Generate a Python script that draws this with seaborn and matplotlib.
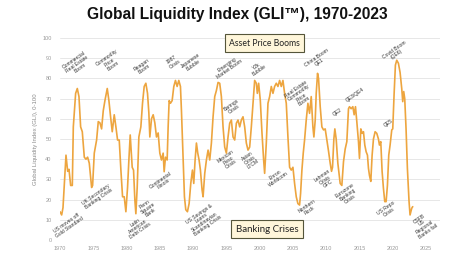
import matplotlib
matplotlib.use("Agg")
import matplotlib.pyplot as plt
import seaborn as sns
import pandas as pd

# ---------------- data ----------------
years = [1970.0, 1970.25, 1970.45, 1970.9, 1971.15, 1971.35, 1971.6, 1971.85,
         1972.0, 1972.35, 1972.6, 1972.85, 1973.1, 1973.35, 1973.65, 1973.9,
         1974.15, 1974.4, 1974.75, 1974.9, 1975.15, 1975.5, 1975.75, 1976.0,
         1976.25, 1976.5, 1976.75, 1977.1, 1977.35, 1977.6, 1977.85, 1978.15,
         1978.4, 1978.65, 1978.9, 1979.15, 1979.4, 1979.65, 1979.9, 1980.15,
         1980.35, 1980.55, 1980.85, 1981.05, 1981.25, 1981.4, 1981.6, 1981.85,
         1982.15, 1982.4, 1982.65, 1982.9, 1983.15, 1983.35, 1983.5, 1983.75,
         1984.0, 1984.25, 1984.5, 1984.75, 1985.0, 1985.25, 1985.5, 1985.65,
         1985.85, 1986.1, 1986.25, 1986.4, 1986.6, 1986.85, 1987.1, 1987.35,
         1987.6, 1987.85, 1988.1, 1988.25, 1988.5, 1988.7, 1988.9, 1989.15,
         1989.4, 1989.65, 1989.9, 1990.1, 1990.3, 1990.5, 1990.7, 1990.9,
         1991.1, 1991.35, 1991.5, 1991.75, 1992.0, 1992.25, 1992.5, 1992.75,
         1993.0, 1993.25, 1993.5, 1993.75, 1994.0, 1994.25, 1994.5, 1994.75,
         1995.0, 1995.25, 1995.5, 1995.75, 1996.0, 1996.25, 1996.5, 1996.75,
         1997.0, 1997.25, 1997.5, 1997.75, 1998.0, 1998.25, 1998.5, 1998.75,
         1999.0, 1999.25, 1999.5, 1999.65, 1999.85, 2000.1, 2000.35, 2000.6,
         2000.75, 2001.0, 2001.25, 2001.5, 2001.75, 2002.0, 2002.25, 2002.5,
         2002.75, 2003.0, 2003.25, 2003.5, 2003.75, 2004.0, 2004.25, 2004.5,
         2004.75, 2005.0, 2005.25, 2005.5, 2005.75, 2006.0, 2006.15, 2006.35,
         2006.55, 2006.75, 2007.0, 2007.25, 2007.5, 2007.75, 2008.0, 2008.15,
         2008.35, 2008.5, 2008.7, 2008.85, 2009.1, 2009.35, 2009.6, 2009.85,
         2010.1, 2010.35, 2010.6, 2010.8, 2010.95, 2011.15, 2011.3, 2011.5,
         2011.75, 2012.1, 2012.35, 2012.6, 2012.85, 2013.1, 2013.35, 2013.5,
         2013.75, 2014.0, 2014.2, 2014.4, 2014.6, 2014.85, 2015.0, 2015.2,
         2015.4, 2015.6, 2015.8, 2016.0, 2016.2, 2016.35, 2016.5, 2016.7,
         2016.9, 2017.1, 2017.35, 2017.6, 2017.85, 2018.0, 2018.2, 2018.4,
         2018.6, 2018.8, 2019.0, 2019.2, 2019.4, 2019.6, 2019.85, 2020.0,
         2020.2, 2020.4, 2020.6, 2020.85, 2021.1, 2021.35, 2021.5, 2021.65,
         2021.8, 2022.0, 2022.2, 2022.45, 2022.6, 2022.85, 2023.0]
gli = [14, 12.4, 16, 42, 34, 35, 27, 27,
       56, 72.6, 75, 71, 56, 53.6, 41, 40,
       41, 38, 26, 27, 43, 49.5, 58.6, 58,
       55, 64, 69, 75, 69, 61, 53.6, 62,
       56, 49.5, 49.5, 34.6, 21.4, 21.4, 14, 26,
       39.6, 52, 36, 34.6, 19.8, 13, 26, 51,
       56, 67.7, 76, 77.6, 72.6, 63, 51, 60,
       62, 58, 51, 53, 43, 39.6, 43, 33.8,
       41, 39.6, 56, 69, 67.7, 69, 76, 79,
       76, 79, 76, 64, 39.6, 21.4, 15, 14,
       18, 28, 34.6, 28, 39.6, 48, 43, 39.6,
       34.6, 24.7, 21.4, 33, 39.6, 44.5, 39.6, 48,
       61, 71, 74, 78, 77.6, 71, 56, 46,
       43, 51, 57.8, 59.4, 51, 49.5, 57.8, 59.4,
       56, 59.4, 61, 56, 48, 44.5, 46, 56,
       67.7, 79, 77.6, 72.6, 77.6, 69, 53, 39.6,
       33, 48, 67.7, 71, 76, 72.6, 76, 77.6,
       76, 79, 76, 79, 72.6, 67.7, 51, 36,
       34.6, 36, 28, 21.4, 18, 17.3, 23, 34.6,
       43, 49.5, 59.4, 67.7, 62.7, 71, 56, 51,
       59.4, 72.6, 82.5, 80, 66, 56, 54.5, 55,
       49.5, 44, 38, 34, 36, 50, 55, 50,
       38, 28, 27, 38.8, 45, 48.7, 65, 66,
       65, 66, 62, 66, 58.6, 48.7, 40.4, 55,
       52.8, 53.6, 47, 43.7, 42, 35.5, 32, 29,
       42, 50, 53.6, 52.8, 50, 47, 48.7, 34,
       25.6, 19, 19, 27, 42, 47, 54.5, 55,
       72, 86.6, 89, 87.5, 83, 75, 68.5, 73.5,
       70, 55, 35.5, 19, 12.4, 15.7, 16.5]

boom_labels = ["Commercial\nReal Estate\nBoom", "Commodity\nPrice\nBoom", "Reagan\nBoom",
               "1987\nCrisis", "Japanese\nBubble", "Emerging\nMarket Boom", "Y2k\nBubble",
               "China Boom\nQE1", "Real Estate\nCommodity\nPrice\nBoom", "QE2", "QE3/QE4",
               "Covid Boom\n(QE6)", "QE5", "Barings\nCrisis"]
boom_x = [1972.6, 1977.5, 1982.5, 1987.0, 1989.85, 1995.3, 1999.8,
          2008.8, 2006.1, 2011.65, 2014.4, 2020.4, 2019.3, 1996.0]
boom_y = [87.1, 88.1, 85.6, 88.1, 87.6, 85.6, 85.1,
          89.1, 71.8, 63.4, 71.8, 93.1, 57.9, 65.8]

crisis_labels = ["US moves off\nGold Standard", "UK Secondary\nBanking Crisis",
                 "Latin\nAmerican\nDebt Crisis", "Penn\nSquare\nBank", "Continental\nIllinois",
                 "US Savings &\nLoans\nScandinavian\nBanking Crisis", "Mexican\nPeso\nCrisis",
                 "Asian\nCrisis\nLTCM", "Enron\nWorldcom", "Northern\nRock",
                 "Lehman\nCrisis\nGFC", "Eurozone\nBanking\nCrisis", "US Repo\nCrisis",
                 "CSFB\nUS\nRegional\nBanks fail"]
crisis_x = [1971.2, 1975.6, 1981.7, 1983.2, 1985.3, 1991.5, 1995.3,
            1998.6, 2002.6, 2007.3, 2009.85, 2013.2, 2019.2, 2024.6]
crisis_y = [7.4, 21.3, 6.4, 15.8, 28.7, 9.9, 39.6,
            39.6, 31.2, 15.8, 29.7, 22.3, 14.9, 7.4]

x_ticks = [1970, 1975, 1980, 1985, 1990, 1995, 2000, 2005, 2010, 2015, 2020, 2025]
y_ticks = [0, 10, 20, 30, 40, 50, 60, 70, 80, 90, 100]

title = "Global Liquidity Index (GLI\u2122), 1970-2023"
y_label = "Global Liquidity Index (GLI), 0-100"

# ---------------- figure ----------------
sns.set_theme(style="white")
plt.rcParams["font.family"] = ["Liberation Sans", "DejaVu Sans"]

W, H = 474, 272
fig = plt.figure(figsize=(W / 100, H / 100), dpi=100)
ax = fig.add_axes([60 / W, 32 / H, 380 / W, 202 / H])

df = pd.DataFrame({"year": years, "gli": gli})
sns.lineplot(data=df, x="year", y="gli", ax=ax, color="#EDA53F", linewidth=1.2,
             estimator=None, sort=False)

ax.set_xlim(1970, 2027.1)
ax.set_ylim(0, 100)
ax.set_xticks(x_ticks)
ax.set_yticks(y_ticks)
ax.tick_params(axis="both", length=0, labelsize=4, labelcolor="#9a9a9a")
ax.tick_params(axis="y", pad=6)
ax.tick_params(axis="x", pad=4)
ax.yaxis.grid(True, color="#e3e3e3", linewidth=0.6)
ax.xaxis.grid(False)
for s in ax.spines.values():
    s.set_visible(False)
ax.set_xlabel("")
ax.set_ylabel(y_label, fontsize=4.3, color="#8a8a8a", labelpad=3)

for lab, x, y in zip(boom_labels + crisis_labels, boom_x + crisis_x, boom_y + crisis_y):
    ax.text(x, y, lab, fontsize=3.6, color="#333333", rotation=35,
            ha="center", va="center", multialignment="center",
            rotation_mode="anchor", linespacing=1.0)

box = dict(boxstyle="square,pad=0.5", facecolor="#FFF6DA", edgecolor="#55553A", linewidth=0.8)
fig.text(264.5 / W, 1 - 43 / H, "Asset Price Booms", fontsize=6.2, color="#222222",
         ha="center", va="center", family=["Lato", "DejaVu Sans"], bbox=box)
fig.text(267 / W, 1 - 229 / H, "Banking Crises", fontsize=7, color="#222222",
         ha="center", va="center", family=["Lato", "DejaVu Sans"], bbox=box)

fig.text(237 / W, 1 - 14 / H, title, fontsize=11.2, fontweight="bold", color="#111111",
         ha="center", va="center")

fig.savefig("out.png", dpi=100, facecolor="white")
